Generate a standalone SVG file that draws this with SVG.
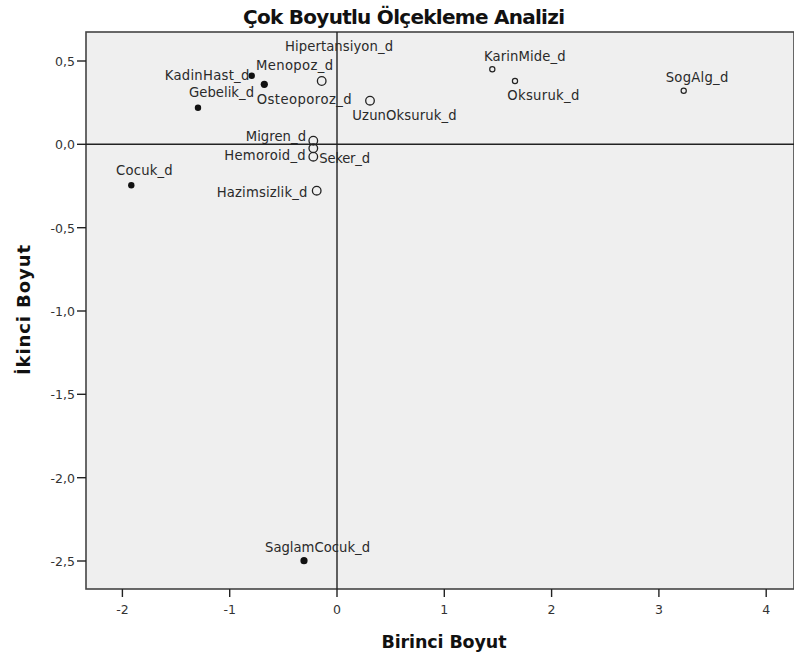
<svg xmlns="http://www.w3.org/2000/svg" width="794" height="659" viewBox="0 0 794 659">
<style>
.lbl{font-family:"DejaVu Sans","Liberation Sans",sans-serif;font-size:13.2px;fill:#2a2a2a}
.tick{font-family:"DejaVu Sans","Liberation Sans",sans-serif;font-size:12.5px;fill:#333}
.ttl{font-family:"DejaVu Sans","Liberation Sans",sans-serif;font-weight:bold;fill:#111}
.dot{fill:#111}
.ring{fill:none;stroke:#222;stroke-width:1.3}
.sring{fill:none;stroke:#222;stroke-width:1.2}
.ax{stroke:#222;stroke-width:1.4}
</style>
<rect width="794" height="659" fill="#ffffff"/>
<text class="ttl" x="404" y="24" font-size="20" text-anchor="middle" textLength="322">Çok Boyutlu Ölçekleme Analizi</text>
<rect x="86" y="32" width="708" height="557" fill="#efefef" stroke="#444" stroke-width="1.6"/>
<g id="y-ticks" stroke="#222" stroke-width="1.4">
<line x1="77" y1="61" x2="86" y2="61"/>
<line x1="77" y1="144.3" x2="86" y2="144.3"/>
<line x1="77" y1="227.7" x2="86" y2="227.7"/>
<line x1="77" y1="311" x2="86" y2="311"/>
<line x1="77" y1="394.3" x2="86" y2="394.3"/>
<line x1="77" y1="477.7" x2="86" y2="477.7"/>
<line x1="77" y1="561" x2="86" y2="561"/>
</g>
<g id="y-tick-labels">
<text class="tick" x="75" y="66" text-anchor="end">0,5</text>
<text class="tick" x="75" y="149.3" text-anchor="end">0,0</text>
<text class="tick" x="75" y="232.7" text-anchor="end">-0,5</text>
<text class="tick" x="75" y="316" text-anchor="end">-1,0</text>
<text class="tick" x="75" y="399.3" text-anchor="end">-1,5</text>
<text class="tick" x="75" y="482.7" text-anchor="end">-2,0</text>
<text class="tick" x="75" y="566" text-anchor="end">-2,5</text>
</g>
<g id="x-ticks" stroke="#222" stroke-width="1.4">
<line x1="122.4" y1="589" x2="122.4" y2="597"/>
<line x1="229.7" y1="589" x2="229.7" y2="597"/>
<line x1="337" y1="589" x2="337" y2="597"/>
<line x1="444.3" y1="589" x2="444.3" y2="597"/>
<line x1="551.6" y1="589" x2="551.6" y2="597"/>
<line x1="658.9" y1="589" x2="658.9" y2="597"/>
<line x1="766.2" y1="589" x2="766.2" y2="597"/>
</g>
<g id="x-tick-labels">
<text class="tick" x="122.4" y="614" text-anchor="middle">-2</text>
<text class="tick" x="229.7" y="614" text-anchor="middle">-1</text>
<text class="tick" x="337" y="614" text-anchor="middle">0</text>
<text class="tick" x="444.3" y="614" text-anchor="middle">1</text>
<text class="tick" x="551.6" y="614" text-anchor="middle">2</text>
<text class="tick" x="658.9" y="614" text-anchor="middle">3</text>
<text class="tick" x="766.2" y="614" text-anchor="middle">4</text>
</g>
<text class="ttl" x="444" y="648" font-size="17.5" text-anchor="middle" textLength="125">Birinci Boyut</text>
<text class="ttl" transform="translate(30,310) rotate(-90)" x="0" y="0" font-size="18" text-anchor="middle" textLength="130">İkinci Boyut</text>
<g id="connectors">
<line class="ax" x1="86" y1="144.3" x2="794" y2="144.3"/>
<line class="ax" x1="337" y1="32" x2="337" y2="589"/>
</g>
<g id="Hipertansiyon_d"><circle class="ring" cx="321.7" cy="81" r="4.3"/><text class="lbl" x="285" y="51" textLength="108">Hipertansiyon_d</text></g>
<g id="Osteoporoz_d"><text class="lbl" x="256.7" y="103.5" textLength="95">Osteoporoz_d</text></g>
<g id="Menopoz_d"><circle class="dot" cx="264.3" cy="84.3" r="3.6"/><text class="lbl" x="256" y="70" textLength="77">Menopoz_d</text></g>
<g id="KadinHast_d"><circle class="dot" cx="251.7" cy="75.7" r="3.2"/><text class="lbl" x="164.7" y="79.5" textLength="84.6">KadinHast_d</text></g>
<g id="Gebelik_d"><circle class="dot" cx="198" cy="107.7" r="3.2"/><text class="lbl" x="189" y="96.7" textLength="65">Gebelik_d</text></g>
<g id="UzunOksuruk_d"><circle class="ring" cx="370" cy="100.7" r="4.3"/><text class="lbl" x="352.3" y="120" textLength="104.4">UzunOksuruk_d</text></g>
<g id="Migren_d"><circle class="ring" cx="313.3" cy="140.7" r="4.3"/><text class="lbl" x="245.7" y="140.7" textLength="60.3">Migren_d</text></g>
<g id="Hemoroid_d"><circle class="ring" cx="313.3" cy="148.3" r="4.3"/><text class="lbl" x="224.3" y="160" textLength="81.4">Hemoroid_d</text></g>
<g id="Seker_d"><circle class="ring" cx="313.3" cy="156.7" r="4.3"/><text class="lbl" x="319.3" y="162.7" textLength="50.7">Seker_d</text></g>
<g id="Hazimsizlik_d"><circle class="ring" cx="316.7" cy="190.7" r="4.3"/><text class="lbl" x="216.7" y="196.7" textLength="90.6">Hazimsizlik_d</text></g>
<g id="Cocuk_d"><circle class="dot" cx="131.3" cy="185.3" r="3.2"/><text class="lbl" x="116" y="175" textLength="56.7">Cocuk_d</text></g>
<g id="KarinMide_d"><circle class="sring" cx="492.3" cy="69.3" r="2.6"/><text class="lbl" x="484" y="60.7" textLength="81.7">KarinMide_d</text></g>
<g id="Oksuruk_d"><circle class="sring" cx="515" cy="81" r="2.6"/><text class="lbl" x="507.3" y="100" textLength="72">Oksuruk_d</text></g>
<g id="SogAlg_d"><circle class="sring" cx="683.7" cy="90.7" r="2.6"/><text class="lbl" x="665.7" y="81.7" textLength="62.6">SogAlg_d</text></g>
<g id="SaglamCocuk_d"><circle class="dot" cx="304" cy="560.7" r="3.6"/><text class="lbl" x="265" y="551.7" textLength="105">SaglamCocuk_d</text></g>
</svg>
